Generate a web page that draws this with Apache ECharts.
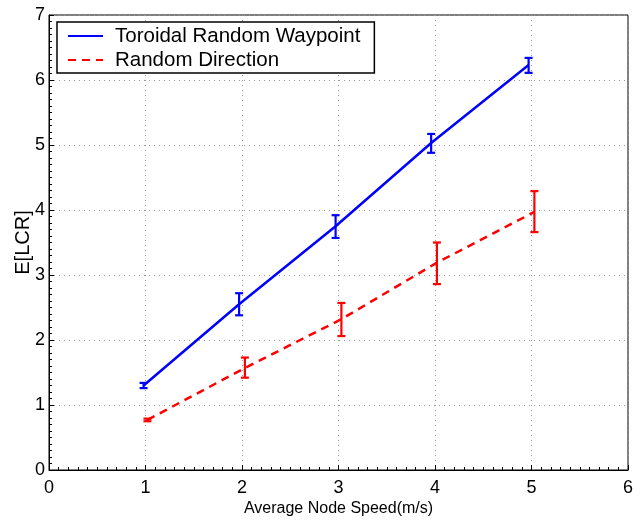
<!DOCTYPE html>
<html>
<head>
<meta charset="utf-8">
<script src="https://cdn.jsdelivr.net/npm/echarts@6/dist/echarts.min.js"></script>
<style>
  html, body { margin: 0; padding: 0; background: #fff; }
  #chart { width: 642px; height: 520px; }
</style>
</head>
<body>
<div id="chart"></div>
<script>
// values
const twpX = [0.98, 1.97, 2.97, 3.96, 4.97]
const twpMean = [1.30, 2.55, 3.75, 5.03, 6.23]
const twpLow = [1.26, 2.38, 3.57, 4.88, 6.11]
const twpHigh = [1.34, 2.72, 3.92, 5.17, 6.34]

const rdX = [1.02, 2.03, 3.03, 4.02, 5.03]
const rdMean = [0.77, 1.57, 2.32, 3.19, 3.97]
const rdLow = [0.75, 1.42, 2.06, 2.86, 3.66]
const rdHigh = [0.79, 1.73, 2.57, 3.50, 4.29]

const font = 'Liberation Sans, Arial, Helvetica, sans-serif'
const chart = echarts.init(document.getElementById('chart'))

function errorBars(xs, lows, highs, color) {
  return {
    type: 'custom',
    silent: true,
    data: xs.map((x, i) => [x, lows[i], highs[i]]),
    renderItem(params, api) {
      const lo = api.coord([api.value(0), api.value(1)])
      const hi = api.coord([api.value(0), api.value(2)])
      const w = 4
      const style = { stroke: color, lineWidth: 2.2 }
      return {
        type: 'group',
        children: [
          { type: 'line', shape: { x1: lo[0], y1: lo[1], x2: hi[0], y2: hi[1] }, style },
          { type: 'line', shape: { x1: lo[0] - w, y1: lo[1], x2: lo[0] + w, y2: lo[1] }, style },
          { type: 'line', shape: { x1: hi[0] - w, y1: hi[1], x2: hi[0] + w, y2: hi[1] }, style },
        ],
      }
    },
    z: 3,
  }
}

const axisCommon = {
  type: 'value',
  nameMoveOverlap: false,
  axisLine: { show: true, onZero: false, lineStyle: { color: '#000', width: 1 } },
  axisTick: { show: true, inside: true, length: 5, lineStyle: { color: '#000' } },
  minorTick: { show: true, splitNumber: 10, length: 3, lineStyle: { color: '#000' } },
  splitLine: { show: true, lineStyle: { color: '#999', type: [1, 4], width: 1 } },
}

chart.setOption({
  animation: false,
  backgroundColor: '#fff',
  grid: {
    left: 49, right: 14, top: 15, bottom: 50,
    containLabel: false, outerBoundsMode: 'none',
    show: true, borderColor: '#000', borderWidth: 1,
  },
  legend: {
    left: 57,
    top: 22,
    orient: 'vertical',
    backgroundColor: '#fff',
    borderColor: '#000',
    borderWidth: 1.5,
    borderRadius: 0,
    padding: [2, 14, 1, 10],
    itemWidth: 35,
    itemHeight: 14,
    itemGap: 0,
    itemStyle: { opacity: 0 },
    textStyle: { color: '#000', fontSize: 20.5, lineHeight: 24, fontFamily: font, padding: [0, 0, 0, 7] },
    data: ['Toroidal Random Waypoint', 'Random Direction'],
  },
  xAxis: {
    ...axisCommon,
    min: 0,
    max: 6,
    interval: 1,
    name: 'Average Node Speed(m/s)',
    nameLocation: 'middle',
    nameGap: 31,
    nameTextStyle: { color: '#000', fontSize: 16, fontFamily: font },
    axisLabel: { color: '#000', fontSize: 18, fontFamily: font, margin: 9 },
  },
  yAxis: {
    ...axisCommon,
    min: 0,
    max: 7,
    interval: 1,
    name: 'E[LCR]',
    nameLocation: 'middle',
    nameGap: 16,
    nameTextStyle: { color: '#000', fontSize: 20, fontFamily: font },
    axisLabel: { color: '#000', fontSize: 18, fontFamily: font, margin: 4 },
  },
  series: [
    {
      name: 'Toroidal Random Waypoint',
      type: 'line',
      data: twpX.map((x, i) => [x, twpMean[i]]),
      symbol: 'none',
      lineStyle: { color: '#0000ff', width: 2.5 },
      itemStyle: { color: '#0000ff' },
      z: 4,
    },
    {
      name: 'Random Direction',
      type: 'line',
      data: rdX.map((x, i) => [x, rdMean[i]]),
      symbol: 'none',
      lineStyle: { color: '#ff0000', width: 2.5, type: [8, 6] },
      itemStyle: { color: '#ff0000' },
      z: 4,
    },
    errorBars(twpX, twpLow, twpHigh, '#0000ff'),
    errorBars(rdX, rdLow, rdHigh, '#ff0000'),
  ],
})
</script>
</body>
</html>
